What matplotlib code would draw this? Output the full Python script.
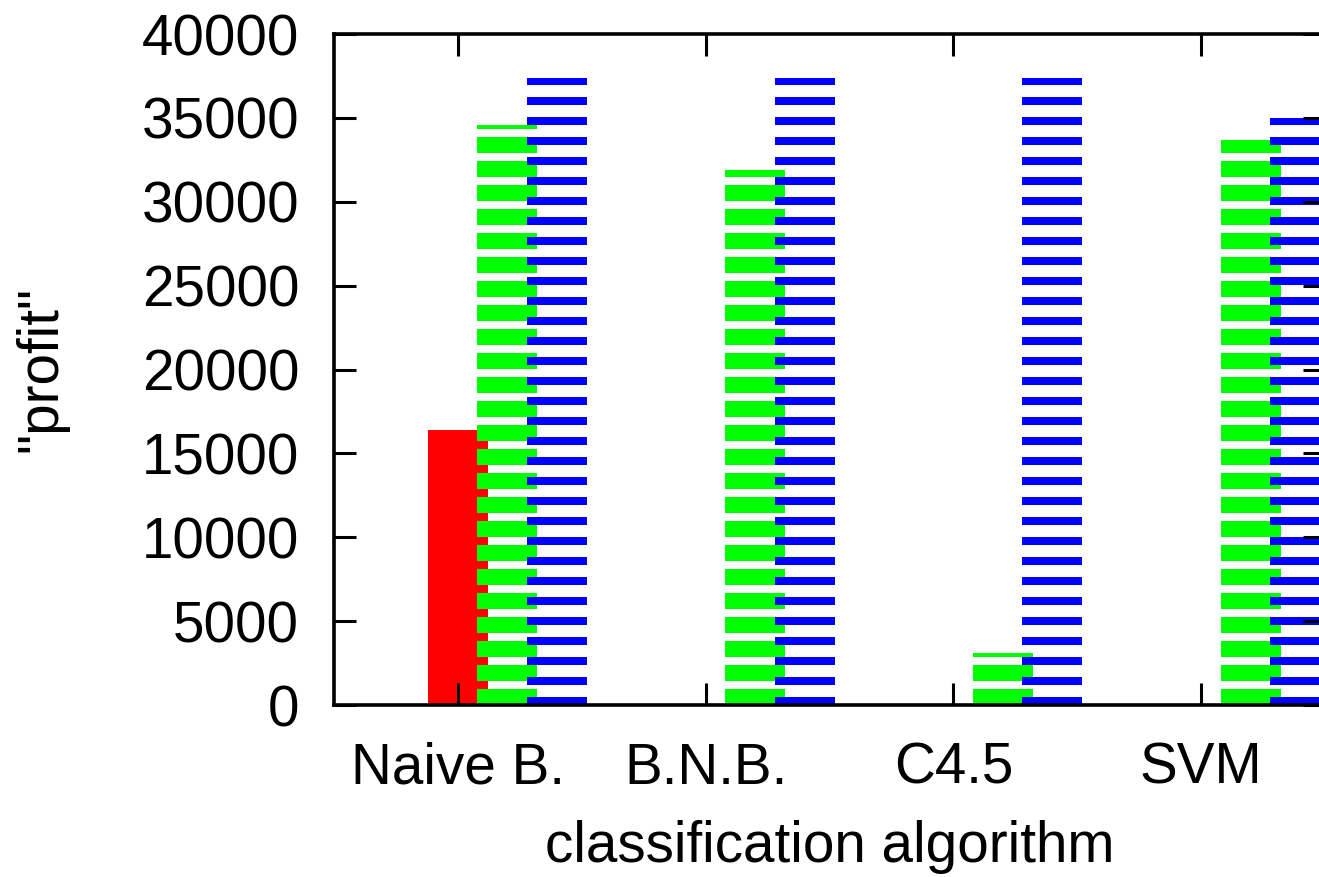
import numpy as np
import matplotlib
matplotlib.use('Agg')
from matplotlib import pyplot as plt

# values
algorithms = ['Naive B.', 'B.N.B.', 'C4.5', 'SVM']
profit_red = [16400, 0, 0, 0]
profit_green = [34550, 31900, 3100, 33700]
profit_blue = [37400, 37400, 37400, 35020]

y_ticks = [0, 5000, 10000, 15000, 20000, 25000, 30000, 35000, 40000]

plt.rcParams['font.family'] = ['Liberation Sans', 'DejaVu Sans']
FS = 40.8

fig = plt.figure(figsize=(13.19, 8.77), dpi=100)
ax = fig.add_axes([0.2532, 0.1961, 0.7513, 0.7651])

ymax = 40000
ax.set_xlim(-0.5, 3.5)
ax.set_ylim(0, ymax)

# data units per pixel along y, for the gnuplot-like stripe pattern
px = ymax / 671.0
width = 0.242
x = np.arange(len(algorithms))


def striped(xpos, values, color, block_px, period_px):
    """Draw bars as horizontal stripes (pattern fill), anchored at zero."""
    block = block_px * px
    period = period_px * px
    for xi, v in zip(xpos, values):
        if v <= 0:
            continue
        bottoms = np.arange(0, v, period)
        tops = np.minimum(bottoms + block, v)
        ax.bar([xi] * len(bottoms), tops - bottoms, bottom=bottoms,
               width=width, color=color, linewidth=0, align='center')


ax.bar(x, profit_red, width=width, color='#ff0000', linewidth=0)
striped(x + 0.2, profit_green, '#00ff00', 16, 24)
striped(x + 0.4, profit_blue, '#0000ff', 8, 20)

ax.set_xticks(x)
ax.set_xticklabels(algorithms)
ax.set_yticks(y_ticks)
ax.set_yticklabels([str(t) for t in y_ticks])

ax.tick_params(axis='both', which='major', direction='in', length=16,
               width=2.2, labelsize=FS, top=True, right=True, color='black')
ax.tick_params(axis='x', pad=26.5)
ax.tick_params(axis='y', pad=25)
for s in ax.spines.values():
    s.set_linewidth(2.6)

fig.text(829.5 / 1319, 1 - 862 / 877, 'classification algorithm',
         ha='center', va='baseline', fontsize=FS)
fig.text(41 / 1319, 1 - 369 / 877, '"profit"', ha='center', va='center',
         rotation=90, fontsize=FS)

fig.savefig('out.png', dpi=100)
